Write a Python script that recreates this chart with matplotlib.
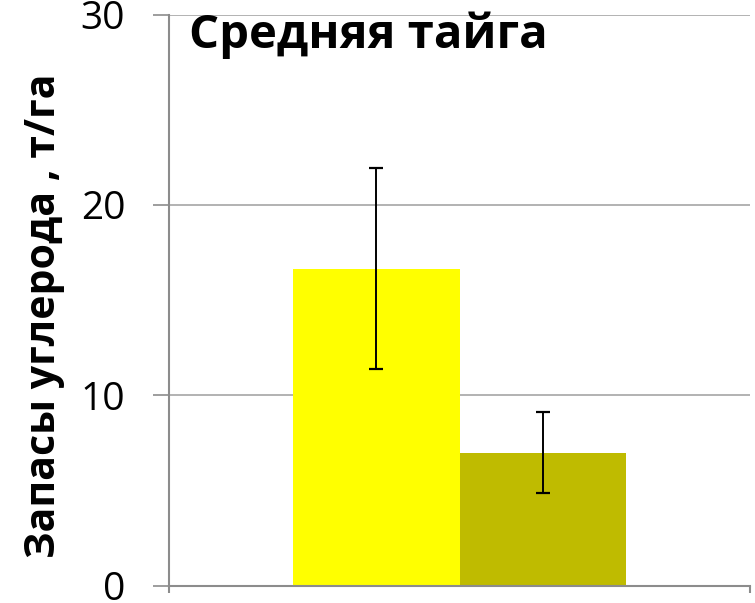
import matplotlib.pyplot as plt

# carbon stock, middle taiga
groups = ["A", "B"]
values = [16.65, 6.98]
err_low = [11.39, 4.85]
err_high = [21.94, 9.13]
colors = ["#FFFF00", "#BFBB00"]
yticks = [0, 10, 20, 30]

plt.rcParams['font.family'] = ['Open Sans', 'DejaVu Sans']

fig = plt.figure(figsize=(7.55, 6.03), dpi=100)
ax = fig.add_axes([169 / 755, 17.5 / 603, 581 / 755, 571 / 603])

width = 0.2866
offsets = [-width / 2, width / 2]
for x, v, lo, hi, c in zip(offsets, values, err_low, err_high, colors):
    ax.bar(x, v, width=width, color=c, zorder=2)
    ax.errorbar(x, v, yerr=[[v - lo], [hi - v]], fmt='none', ecolor='black',
                elinewidth=1.4, capsize=4.7, capthick=1.6, zorder=3)

ax.set_xlim(-0.5, 0.5)
ax.set_ylim(0, 30)
ax.set_yticks(yticks)
ax.set_yticklabels([str(t) for t in yticks], fontsize=28)
ax.set_xticks([-0.5, 0.5])
ax.set_xticklabels([])
ax.tick_params(axis='y', direction='out', length=11.5, width=1.2, color='#8c8c8c', pad=20)
ax.tick_params(axis='x', direction='out', length=5, width=1.5, color='#8c8c8c')
ax.grid(axis='y', color='#a6a6a6', linewidth=1.2, zorder=0)

for side in ['top', 'right']:
    ax.spines[side].set_visible(False)
for side in ['left', 'bottom']:
    ax.spines[side].set_color('#8c8c8c')
    ax.spines[side].set_linewidth(1.5)

ax.text(0.035, 1.005, "Средняя тайга", transform=ax.transAxes, fontsize=34,
        fontweight='bold', ha='left', va='top')
fig.text(45 / 755, 1 - 316 / 603, "Запасы углерода , т/га", rotation=90,
         fontsize=29.5, fontweight='bold', ha='center', va='center')

fig.savefig("out.png", dpi=100)
